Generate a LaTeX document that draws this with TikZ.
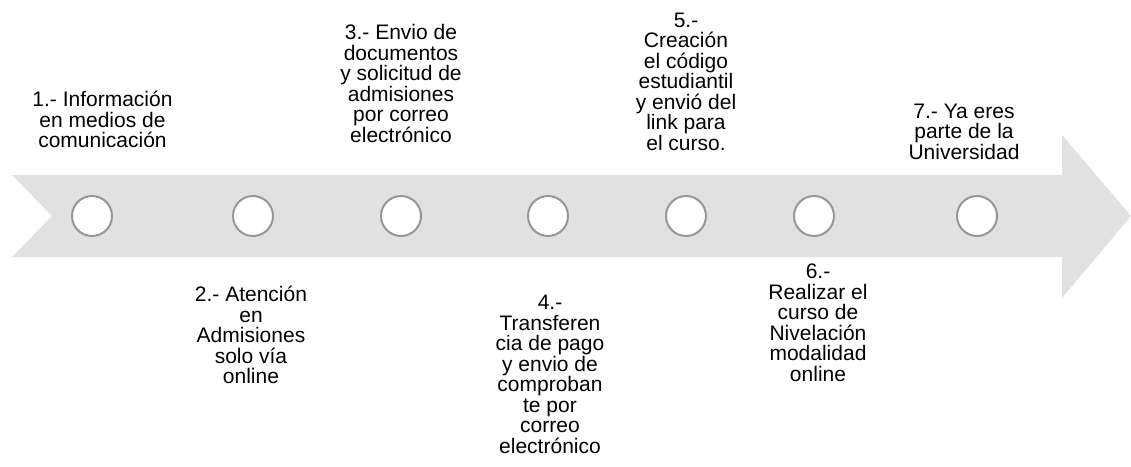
\documentclass[tikz,border=0pt]{standalone}
\usepackage{fontspec}
\setmainfont{Liberation Sans}
\definecolor{band}{HTML}{E1E1E1}
\definecolor{ring}{HTML}{979797}
\newcommand\firstline{\rule{0pt}{15.5pt}}
\begin{document}
\begin{tikzpicture}[x=1pt,y=-1pt,
  circ/.style={circle, draw=ring, line width=2pt, fill=white, minimum size=40pt, inner sep=0pt},
  lbl/.style={align=center, anchor=north, inner sep=0pt, font=\fontsize{21}{20.5}\selectfont}]
\useasboundingbox (0,0) rectangle (1131,466);
% arrow band
\fill[band] (12,175) -- (1062,175) -- (1062,135) -- (1131,216) -- (1062,298)
  -- (1062,257) -- (12,257) -- (52,216) -- cycle;
% circles
\node[circ] (c1) at (92,216) {};
\node[circ] (c2) at (253,216) {};
\node[circ] (c3) at (401,216) {};
\node[circ] (c4) at (548,216) {};
\node[circ] (c5) at (686,216) {};
\node[circ] (c6) at (814,216) {};
\node[circ] (c7) at (977,216) {};
% labels
\node[lbl] (t1) at (102.5,91) {\firstline 1.- Información\\en medios de\\comunicación};
\node[lbl] (t2) at (251,286.2) {\firstline 2.- Atención\\en\\Admisiones\\solo vía\\online};
\node[lbl] (t3) at (401,23.8) {\firstline 3.- Envio de\\documentos\\y solicitud de\\admisiones\\por correo\\electrónico};
\node[lbl] (t4) at (550,293.8) {\firstline 4.-\\Transferen\\cia de pago\\y envio de\\comproban\\te por\\correo\\electrónico};
\node[lbl] (t5) at (686,11.5) {\firstline 5.-\\Creación\\el código\\estudiantil\\y envió del\\link para\\el curso.};
\node[lbl] (t6) at (818,263) {\firstline 6.-\\Realizar el\\curso de\\Nivelación\\modalidad\\online};
\node[lbl] (t7) at (964,102.5) {\firstline 7.- Ya eres\\parte de la\\Universidad};
\end{tikzpicture}
\end{document}
